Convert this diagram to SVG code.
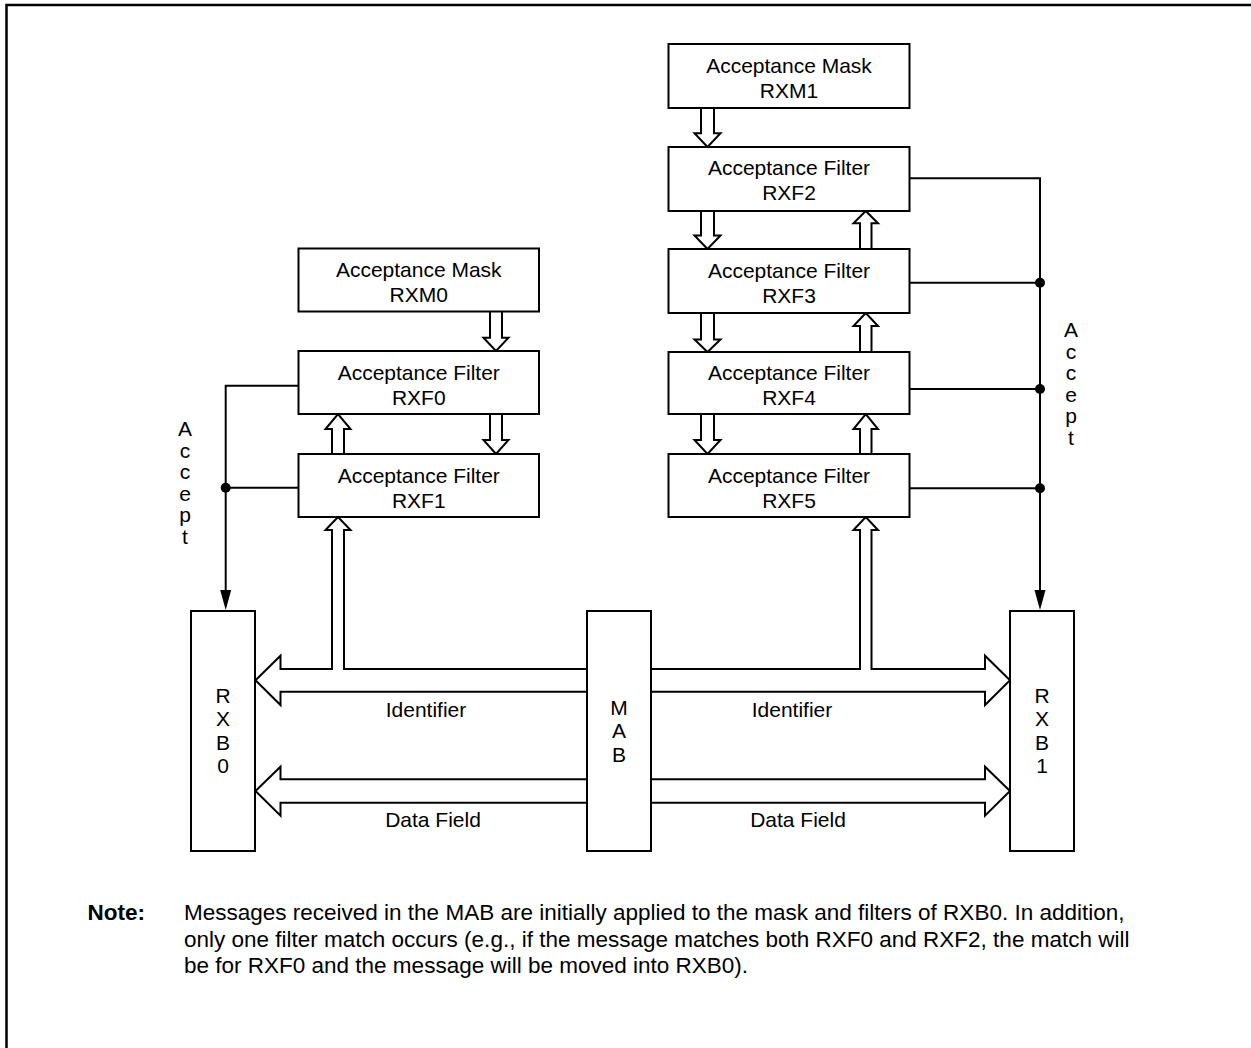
<svg xmlns="http://www.w3.org/2000/svg" width="1251" height="1048" viewBox="0 0 1251 1048">
<defs>
<style>
.box{fill:#fff;stroke:#000;stroke-width:2}
.t{font-family:"Liberation Sans",Arial,sans-serif;font-size:21px;fill:#000;text-anchor:middle}
.n{font-family:"Liberation Sans",Arial,sans-serif;font-size:22.5px;fill:#000}
.ln{fill:none;stroke:#000;stroke-width:2}
.ha{fill:#fff;stroke:#000;stroke-width:2;stroke-linejoin:miter}
.dot{fill:#000}
</style>
</defs>
<rect width="1251" height="1048" fill="#fff"/>
<polyline points="6.5,1048 6.5,5 1251,5" fill="none" stroke="#000" stroke-width="2.5"/>

<g id="connectors">
<path class="ln" d="M298.5,385.7 H225.7 V592"/>
<path class="ln" d="M298.5,487.7 H225.7"/>
<path d="M220.2,590 L231.2,590 L225.7,610 Z" fill="#000"/>
<circle class="dot" cx="225.7" cy="487.7" r="5"/>
<path class="ln" d="M909,178.3 H1040 V592"/>
<path class="ln" d="M909,282.7 H1040"/>
<path class="ln" d="M909,389 H1040"/>
<path class="ln" d="M909,488.3 H1040"/>
<path d="M1034.5,590 L1045.5,590 L1040,610 Z" fill="#000"/>
<circle class="dot" cx="1040" cy="282.7" r="5"/>
<circle class="dot" cx="1040" cy="389" r="5"/>
<circle class="dot" cx="1040" cy="488.3" r="5"/>
<path class="ha" d="M490,312 V337.7 H483.5 L496,351 L508.5,337.7 H502 V312"/>
<path class="ha" d="M490,414 V440 H483.5 L496,454 L508.5,440 H502 V414"/>
<path class="ha" d="M332,454 V429 H325.5 L338,414 L350.5,429 H344 V454"/>
<path class="ha" d="M701,108 V133.3 H694.5 L707.5,147 L720.5,133.3 H714 V108"/>
<path class="ha" d="M701,211 V235.5 H694.5 L707.5,249 L720.5,235.5 H714 V211"/>
<path class="ha" d="M701,313 V339.5 H694.5 L707.5,352 L720.5,339.5 H714 V313"/>
<path class="ha" d="M701,414 V440 H694.5 L707.5,454 L720.5,440 H714 V414"/>
<path class="ha" d="M860,249 V223.3 H853.5 L865.75,211 L878,223.3 H871.5 V249"/>
<path class="ha" d="M860,352 V326 H853.5 L865.75,313 L878,326 H871.5 V352"/>
<path class="ha" d="M860,454 V429 H853.5 L865.75,414 L878,429 H871.5 V454"/>
<path class="ha" d="M588,669 H344 V530 H350.5 L338,517 L325.5,530 H332 V669 H280.5 V655.7 L255.5,680.3 L280.5,705 V691.7 H588"/>
<path class="ha" d="M650,669 H860 V530 H853.5 L865.75,517 L878,530 H871.5 V669 H985 V655.7 L1010,680.3 L985,705 V691.7 H650"/>
<path class="ha" d="M588,779.3 H280.5 V766.7 L255.5,791 L280.5,815.7 V802.7 H588"/>
<path class="ha" d="M650,779.3 H985 V766.7 L1010,791 L985,815.7 V802.7 H650"/>
</g>

<g id="rxm0"><rect class="box" x="298.5" y="248.5" width="240.5" height="63"/>
<text class="t" x="418.75" y="277">Acceptance Mask</text><text class="t" x="418.75" y="302">RXM0</text></g>
<g id="rxf0"><rect class="box" x="298.5" y="351" width="240.5" height="63"/>
<text class="t" x="418.75" y="380">Acceptance Filter</text><text class="t" x="418.75" y="405">RXF0</text></g>
<g id="rxf1"><rect class="box" x="298.5" y="454" width="240.5" height="63"/>
<text class="t" x="418.75" y="483">Acceptance Filter</text><text class="t" x="418.75" y="508">RXF1</text></g>

<g id="rxm1"><rect class="box" x="668.5" y="44" width="241" height="64"/>
<text class="t" x="789" y="73">Acceptance Mask</text><text class="t" x="789" y="98">RXM1</text></g>
<g id="rxf2"><rect class="box" x="668.5" y="147" width="241" height="64"/>
<text class="t" x="789" y="175">Acceptance Filter</text><text class="t" x="789" y="200">RXF2</text></g>
<g id="rxf3"><rect class="box" x="668.5" y="249" width="241" height="64"/>
<text class="t" x="789" y="278">Acceptance Filter</text><text class="t" x="789" y="303">RXF3</text></g>
<g id="rxf4"><rect class="box" x="668.5" y="352" width="241" height="62"/>
<text class="t" x="789" y="380">Acceptance Filter</text><text class="t" x="789" y="405">RXF4</text></g>
<g id="rxf5"><rect class="box" x="668.5" y="454" width="241" height="63"/>
<text class="t" x="789" y="483">Acceptance Filter</text><text class="t" x="789" y="508">RXF5</text></g>

<g id="rxb0"><rect class="box" x="191" y="611" width="64" height="240"/>
<text class="t"><tspan x="223" y="702.5">R</tspan><tspan x="223" y="726">X</tspan><tspan x="223" y="749.5">B</tspan><tspan x="223" y="773">0</tspan></text></g>
<g id="mab"><rect class="box" x="587" y="611" width="64" height="240"/>
<text class="t"><tspan x="619" y="714.5">M</tspan><tspan x="619" y="738">A</tspan><tspan x="619" y="761.5">B</tspan></text></g>
<g id="rxb1"><rect class="box" x="1010" y="611" width="64" height="240"/>
<text class="t"><tspan x="1042" y="702.5">R</tspan><tspan x="1042" y="726">X</tspan><tspan x="1042" y="749.5">B</tspan><tspan x="1042" y="773">1</tspan></text></g>

<g id="labels">
<text class="t" x="426" y="717">Identifier</text>
<text class="t" x="792" y="717">Identifier</text>
<text class="t" x="433" y="827">Data Field</text>
<text class="t" x="798" y="827">Data Field</text>
<text class="t"><tspan x="185" y="436">A</tspan><tspan x="185" y="457.5">c</tspan><tspan x="185" y="479">c</tspan><tspan x="185" y="500.5">e</tspan><tspan x="185" y="522">p</tspan><tspan x="185" y="543.5">t</tspan></text>
<text class="t"><tspan x="1071" y="337">A</tspan><tspan x="1071" y="358.5">c</tspan><tspan x="1071" y="380">c</tspan><tspan x="1071" y="401.5">e</tspan><tspan x="1071" y="423">p</tspan><tspan x="1071" y="444.5">t</tspan></text>
</g>

<g id="note">
<text class="n" x="145" y="920" font-weight="bold" text-anchor="end">Note:</text>
<text class="n" x="184" y="920">Messages received in the MAB are initially applied to the mask and filters of RXB0. In addition,</text>
<text class="n" x="184" y="946.5">only one filter match occurs (e.g., if the message matches both RXF0 and RXF2, the match will</text>
<text class="n" x="184" y="973">be for RXF0 and the message will be moved into RXB0).</text>
</g>
</svg>
